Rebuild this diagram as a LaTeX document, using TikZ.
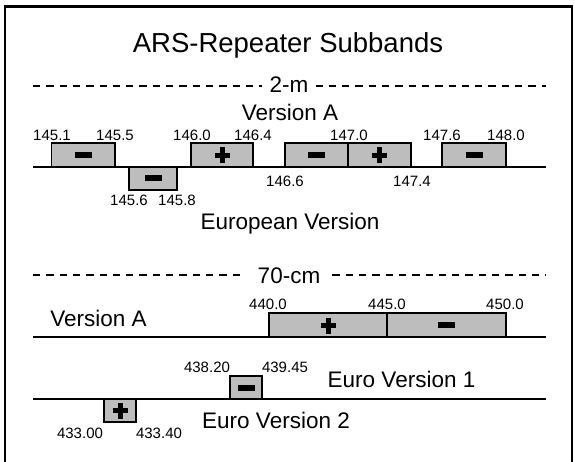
\documentclass[tikz,border=0pt]{standalone}
\usepackage{fontspec}
\setmainfont{Liberation Sans}
\usepackage{tikz}
\definecolor{bandgray}{gray}{0.74}
\tikzset{
	band/.style={draw, fill=bandgray, line width=1.2pt},
	rail/.style={line width=2.7pt},
	dashline/.style={line width=2pt, dash pattern=on 7.3pt off 6pt},
	freq/.style={anchor=base, inner sep=0pt, font=\fontsize{15}{16}\selectfont},
	vername/.style={anchor=base, inner sep=0pt, font=\fontsize{22.5}{26}\selectfont},
	minusmark/.pic={\fill (-8.5,-3) rectangle (8.5,3);},
	plusmark/.pic={\fill (-7.5,-2.5) rectangle (7.5,2.5); \fill (-2.5,-8) rectangle (2.5,8);}
}
\begin{document}
\begin{tikzpicture}[x=1pt,y=-1pt]
		\useasboundingbox (0,0) rectangle (575,462);
		%frame
		\draw[line width=2.7pt] (5,470) -- (5,6.5) -- (572,6.5) -- (572,470);
		\node[anchor=base, inner sep=0pt, font=\fontsize{27.5}{30}\selectfont] (title) at (288,52.5) {ARS-Repeater Subbands};
		%%% 2-m
		\node[vername, inner xsep=7pt] (twom) at (289,93) {2-m};
		\coordinate (twomL) at (33,86);
		\coordinate (twomR) at (546,86);
		\draw[dashline] (twomL) -- (twomL -| twom.west);
		\draw[dashline] (twom.east |- twomR) -- (twomR);
		\node[vername] (verA) at (290,121) {Version A};
		\draw[band] (51.7,143) rectangle (115,167);
		\draw[band] (191,143) rectangle (253,167);
		\draw[band] (285,143) rectangle (348,167);
		\draw[band] (348,143) rectangle (411,167);
		\draw[band] (442,143) rectangle (506,167);
		\draw[band] (129,167) rectangle (177,190);
		\pic at (83.3,155) {minusmark};
		\pic at (222,155.5) {plusmark};
		\pic at (316.5,155) {minusmark};
		\pic at (379.5,155.5) {plusmark};
		\pic at (474,155) {minusmark};
		\pic at (153,178.5) {minusmark};
		\coordinate (railAL) at (33,167);
		\coordinate (railAR) at (546,167);
		\draw[rail] (railAL) -- (railAR);
		\node[freq] (f1451) at (52,140.5) {145.1};
		\node[freq] (f1455) at (115,140.5) {145.5};
		\node[freq] (f1460) at (192,140.5) {146.0};
		\node[freq] (f1464) at (253,140.5) {146.4};
		\node[freq] (f1470) at (349,140.5) {147.0};
		\node[freq] (f1476) at (442,140.5) {147.6};
		\node[freq] (f1480) at (506,140.5) {148.0};
		\node[freq] (f1466) at (285,187) {146.6};
		\node[freq] (f1474) at (412,187) {147.4};
		\node[freq] (f1456) at (129,206) {145.6};
		\node[freq] (f1458) at (177,206) {145.8};
		\node[vername] (euro) at (290,230) {European Version};
		%%% 70-cm
		\node[vername, inner xsep=12pt] (seventy) at (289,283) {70-cm};
		\coordinate (sevL) at (33,275);
		\coordinate (sevR) at (546,275);
		\draw[dashline] (sevL) -- (sevL -| seventy.west);
		\draw[dashline] (seventy.east |- sevR) -- (sevR);
		\node[vername] (verB) at (98.5,326.5) {Version A};
		\draw[band] (269,313) rectangle (387,337);
		\draw[band] (387,313) rectangle (506,337);
		\pic at (328,325.5) {plusmark};
		\pic at (446.5,325) {minusmark};
		\coordinate (railBL) at (33,337);
		\coordinate (railBR) at (546,337);
		\draw[rail] (railBL) -- (railBR);
		\node[freq] (f4400) at (268,309.5) {440.0};
		\node[freq] (f4450) at (387,309.5) {445.0};
		\node[freq] (f4500) at (505,309.5) {450.0};
		%%% euro
		\draw[band] (230,376) rectangle (262,399);
		\draw[band] (104,399) rectangle (136,422);
		\pic at (246,388) {minusmark};
		\pic at (120,410.5) {plusmark};
		\coordinate (railCL) at (33,399);
		\coordinate (railCR) at (546,399);
		\draw[rail] (railCL) -- (railCR);
		\node[freq] (f43820) at (207,372) {438.20};
		\node[freq] (f43945) at (285,372) {439.45};
		\node[freq] (f43300) at (80,438) {433.00};
		\node[freq] (f43340) at (159,438) {433.40};
		\node[vername] (euroA) at (401.5,387.5) {Euro Version 1};
		\node[vername] (euroB) at (276,428) {Euro Version 2};
	\end{tikzpicture}
\end{document}
